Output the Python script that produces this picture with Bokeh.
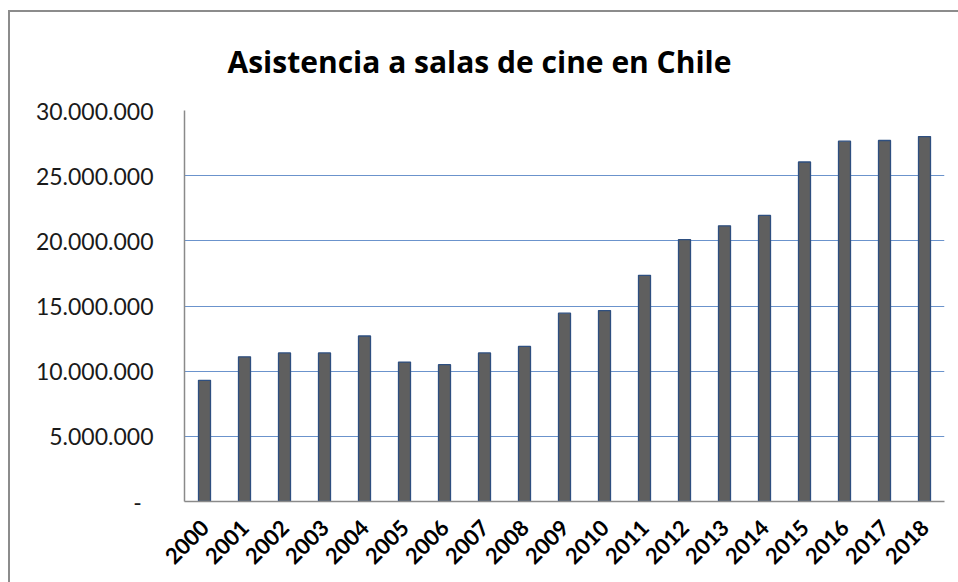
import math
from bokeh.plotting import figure
from bokeh.models import FixedTicker, ColumnDataSource
from bokeh.embed import file_html
from bokeh.resources import INLINE

years = ["2000", "2001", "2002", "2003", "2004", "2005", "2006", "2007", "2008", "2009",
         "2010", "2011", "2012", "2013", "2014", "2015", "2016", "2017", "2018"]
attendance = [9300000, 11100000, 11400000, 11400000, 12700000, 10700000, 10500000, 11400000,
              11900000, 14450000, 14650000, 17350000, 20100000, 21150000, 21950000, 26050000,
              27650000, 27700000, 28000000]
y_ticks = [0, 5000000, 10000000, 15000000, 20000000, 25000000, 30000000]
y_tick_labels = ["-\u00a0\u00a0", "5.000.000", "10.000.000", "15.000.000", "20.000.000",
                 "25.000.000", "30.000.000"]
title_text = "Asistencia a salas de cine en Chile"

source = ColumnDataSource(data=dict(year=years, value=attendance))

p = figure(x_range=years, y_range=(0, 30000000), width=950, height=572,
           output_backend="svg", toolbar_location=None,
           min_border_left=174, min_border_right=16, min_border_top=98, min_border_bottom=83)
p.x_range.range_padding = 0

p.vbar(x="year", top="value", width=0.3, source=source,
       fill_color="#5f5f5f", line_color="#2e4f80", line_width=1.3)

p.title.text = title_text
p.title.text_font = "Open Sans"
p.title.text_font_style = "bold"
p.title.text_font_size = "30px"
p.title.align = "left"
p.title.vertical_align = "top"
p.title.offset = 43
p.title.standoff = 54
p.title.text_color = "#000000"

p.outline_line_color = None
p.background_fill_color = "white"
p.border_fill_color = "white"

p.xgrid.grid_line_color = None
p.ygrid.grid_line_color = "#6b93cc"
p.ygrid.grid_line_width = 1.2
p.yaxis.ticker = FixedTicker(ticks=y_ticks)
p.yaxis.major_label_overrides = {t: l for t, l in zip(y_ticks, y_tick_labels)}
p.yaxis.major_tick_line_color = None
p.yaxis.minor_tick_line_color = None
p.yaxis.major_tick_out = 0
p.yaxis.major_tick_in = 0
p.yaxis.major_label_standoff = 31
p.yaxis.major_label_text_font = "Lato"
p.yaxis.major_label_text_font_size = "23px"
p.yaxis.major_label_text_color = "#1a1a1a"
p.yaxis.axis_line_color = "#8a8a8a"
p.yaxis.axis_line_width = 1.5

p.xaxis.major_tick_line_color = None
p.xaxis.major_tick_out = 0
p.xaxis.major_tick_in = 0
p.xaxis.major_label_orientation = math.pi / 4
p.xaxis.major_label_standoff = 22
p.xaxis.major_label_text_font = "Lato"
p.xaxis.major_label_text_font_style = "bold"
p.xaxis.major_label_text_font_size = "22px"
p.xaxis.major_label_text_color = "#000000"
p.xaxis.axis_line_color = "#8a8a8a"
p.xaxis.axis_line_width = 1.5

p.styles = {"border-left": "2px solid #8c8c8c", "border-top": "2px solid #8c8c8c",
            "margin-top": "10px", "margin-left": "8px", "box-sizing": "border-box"}

open("out.html", "w").write(file_html(p, INLINE))
